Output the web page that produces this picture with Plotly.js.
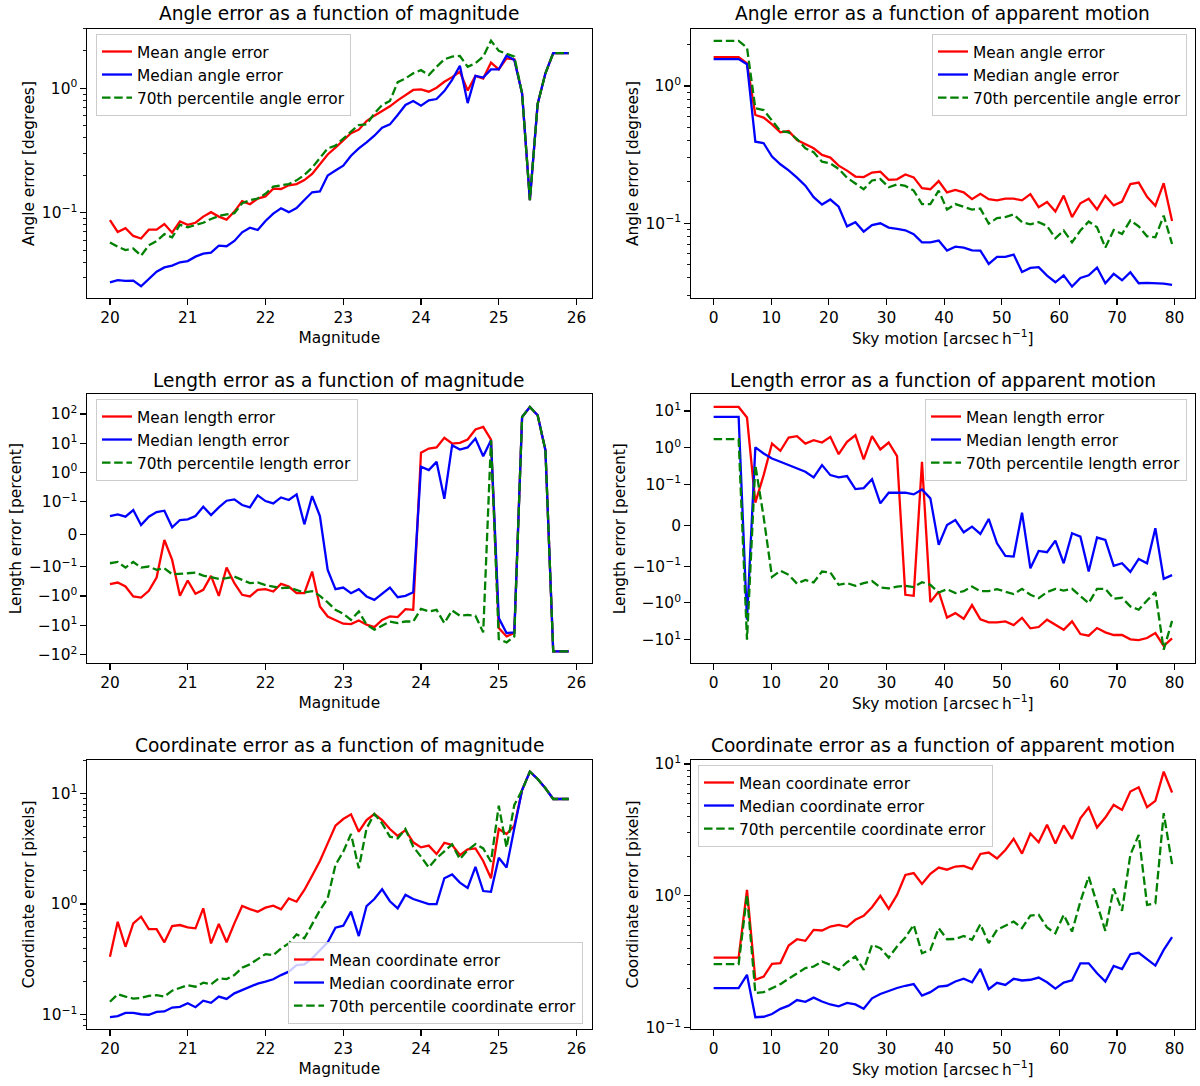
<!DOCTYPE html>
<html>
<head>
<meta charset="utf-8">
<script src="https://cdn.plot.ly/plotly-3.0.1.min.js"></script>
<style>html,body{margin:0;padding:0;background:#fff;}#chart{width:1200px;height:1086px;}</style>
</head>
<body>
<div id="chart"></div>
<script>
// ---------------- DATA ----------------
const magnitude = [20.0,20.1,20.2,20.3,20.4,20.5,20.6,20.7,20.8,20.9,21.0,21.1,21.2,21.3,21.4,21.5,21.6,21.7,21.8,21.9,
  22.0,22.1,22.2,22.3,22.4,22.5,22.6,22.7,22.8,22.9,23.0,23.1,23.2,23.3,23.4,23.5,23.6,23.7,23.8,23.9,
  24.0,24.1,24.2,24.3,24.4,24.5,24.6,24.7,24.8,24.9,25.0,25.1,25.2,25.3,25.4,25.5,25.6,25.7,25.8,25.9];
const skyMotion = [0,1.45,2.89,4.34,5.79,7.24,8.68,10.13,11.58,13.02,14.47,15.92,17.36,18.81,20.25,21.7,23.15,24.6,26.04,27.49,
  28.93,30.38,31.83,33.27,34.72,36.16,37.61,39.06,40.5,41.95,43.4,44.84,46.29,47.74,49.18,50.63,52.07,53.52,54.97,56.41,
  57.86,59.31,60.75,62.2,63.65,65.09,66.54,67.98,69.43,70.88,72.32,73.77,75.22,76.66,78.11,79.56];

// Angle error vs magnitude [degrees]
const angleMagMean = [0.087,0.070,0.075,0.065,0.062,0.073,0.073,0.081,0.069,0.085,0.080,0.083,0.093,0.101,0.093,0.088,0.102,0.124,0.117,0.130,
  0.135,0.156,0.155,0.166,0.170,0.183,0.205,0.245,0.294,0.333,0.384,0.435,0.465,0.546,0.603,0.657,0.717,0.80,0.88,0.97,
  0.98,0.94,1.01,1.13,1.23,1.36,0.96,1.26,1.20,1.61,1.42,1.74,1.71,0.91,0.126,0.748,1.32,1.92,1.92,1.92];
const angleMagMedian = [0.0275,0.0287,0.0283,0.0284,0.0256,0.0293,0.0335,0.0363,0.0375,0.0399,0.0408,0.0443,0.0468,0.0477,0.0543,0.0537,0.0592,0.0695,0.0757,0.0726,
  0.0857,0.0982,0.1084,0.101,0.109,0.1264,0.146,0.148,0.199,0.218,0.239,0.287,0.329,0.368,0.416,0.483,0.513,0.610,0.734,0.791,
  0.726,0.80,0.82,0.95,1.17,1.52,0.76,1.26,1.22,1.42,1.42,1.83,1.69,0.91,0.126,0.748,1.32,1.92,1.92,1.92];
const angleMagP70 = [0.0577,0.0533,0.0501,0.0515,0.0451,0.0546,0.0592,0.0673,0.0633,0.080,0.0762,0.080,0.083,0.089,0.094,0.097,0.099,0.119,0.126,0.130,
  0.142,0.162,0.166,0.170,0.182,0.201,0.230,0.277,0.329,0.346,0.396,0.448,0.507,0.513,0.629,0.734,0.791,1.12,1.20,1.32,
  1.40,1.28,1.49,1.71,1.80,1.82,1.49,1.59,1.80,2.42,2.0,1.91,1.80,0.91,0.126,0.748,1.32,1.92,1.92,1.92];

// Angle error vs apparent motion [degrees]
const angleMotMean = [1.62,1.62,1.62,1.62,1.46,0.615,0.588,0.526,0.460,0.47,0.404,0.376,0.352,0.315,0.301,0.263,0.242,0.219,0.217,0.234,
  0.238,0.207,0.209,0.227,0.216,0.180,0.177,0.203,0.168,0.175,0.168,0.150,0.164,0.150,0.147,0.151,0.151,0.147,0.163,0.131,
  0.143,0.122,0.159,0.111,0.140,0.151,0.126,0.159,0.135,0.144,0.193,0.198,0.156,0.134,0.196,0.104];
const angleMotMedian = [1.57,1.57,1.57,1.57,1.44,0.393,0.383,0.306,0.269,0.243,0.215,0.188,0.155,0.137,0.149,0.132,0.095,0.102,0.087,0.097,
  0.100,0.093,0.091,0.089,0.0832,0.0727,0.0727,0.0748,0.0633,0.0676,0.0665,0.0636,0.0633,0.0506,0.0569,0.0569,0.0592,0.0442,0.0473,0.0479,
  0.0416,0.0372,0.0418,0.0346,0.0400,0.0418,0.0476,0.0366,0.0428,0.0385,0.0440,0.0366,0.0368,0.0366,0.0364,0.0356];
const angleMotP70 = [2.13,2.13,2.13,2.13,1.90,0.688,0.668,0.565,0.470,0.460,0.411,0.352,0.329,0.281,0.273,0.249,0.215,0.195,0.177,0.205,
  0.210,0.183,0.192,0.187,0.173,0.138,0.138,0.173,0.126,0.138,0.132,0.126,0.128,0.0995,0.109,0.111,0.116,0.102,0.0984,0.102,
  0.0956,0.0778,0.0885,0.0727,0.0885,0.103,0.0935,0.0665,0.0894,0.0836,0.105,0.095,0.0804,0.0791,0.1137,0.0707];

// Length error vs magnitude [percent]
const lenMagMean = [-0.393,-0.344,-0.471,-1.03,-1.12,-0.663,-0.233,-0.0174,-0.0788,-0.98,-0.294,-0.838,-0.613,-0.204,-0.98,-0.106,-0.362,-0.906,-1.03,-0.613,
  -0.58,-0.698,-0.382,-0.471,-0.794,-0.794,-0.145,-2.27,-4.97,-6.8,-8.8,-9.1,-6.8,-9.5,-11.5,-6.5,-4.97,-5.2,-2.8,-2.95,
  4.8,6.6,7.2,15.3,9.8,10.3,13.4,29.5,36.3,13.4,-12.4,-23.9,-18.4,79.4,174,90.6,5.8,-77.5,-77.5,-77.5];
const lenMagMedian = [0.0563,0.0614,0.0542,0.0747,0.0286,0.0542,0.0685,0.0726,0.0215,0.044,0.046,0.0563,0.0849,0.0593,0.0828,0.109,0.121,0.090,0.0828,0.166,
  0.106,0.0951,0.141,0.115,0.179,0.0307,0.157,0.0563,-0.127,-0.58,-0.51,-0.794,-0.58,-1.03,-1.34,-0.838,-0.51,-1.09,-0.98,-0.735,
  1.57,1.21,2.32,0.127,8.6,6.1,7.2,14.5,3.6,12.7,-5.66,-18.4,-17.4,79.4,174,90.6,5.8,-77.5,-77.5,-77.5];
const lenMagP70 = [-0.089,-0.085,-0.106,-0.085,-0.106,-0.099,-0.127,-0.112,-0.179,-0.175,-0.166,-0.157,-0.199,-0.227,-0.258,-0.245,-0.216,-0.279,-0.362,-0.344,
  -0.425,-0.471,-0.538,-0.51,-0.613,-0.755,-0.68,-0.98,-1.64,-2.95,-4.03,-6.5,-3.35,-9.5,-14.1,-10.3,-7.4,-8.4,-7.4,-7.4,
  -2.72,-3.35,-2.95,-8.4,-3.1,-4.7,-4.4,-4.7,-17.4,12.7,-29.5,-38.3,-23.9,79.4,174,90.6,5.8,-77.5,-77.5,-77.5];

// Length error vs apparent motion [percent]
const lenMotMean = [12.9,12.9,12.9,12.9,6.63,0.0554,0.180,1.30,0.825,1.90,2.06,1.30,1.60,1.39,1.98,0.67,1.45,2.19,0.48,2.06,
  0.90,1.39,0.59,-0.603,-0.643,0.415,-0.953,-0.49,-2.5,-1.90,-2.71,-1.15,-2.82,-3.4,-3.4,-3.19,-4.02,-2.55,-4.94,-4.55,
  -2.88,-3.85,-5.38,-3.19,-7.05,-7.83,-4.84,-6.36,-7.5,-7.5,-9.85,-10.3,-9.06,-6.63,-14.9,-9.25];
const lenMotMedian = [6.9,6.9,6.9,6.9,-2.88,1.02,0.70,0.51,0.415,0.337,0.285,0.222,0.156,0.337,0.180,0.156,0.169,0.0888,0.0913,0.140,
  0.0538,0.0798,0.0798,0.0798,0.0758,0.088,0.066,-0.048,0.0008,0.013,-0.0171,-0.0033,-0.0212,0.0155,-0.044,-0.075,-0.0766,0.031,-0.114,-0.0627,
  -0.066,-0.0375,-0.0929,-0.0195,-0.0277,-0.140,-0.030,-0.0358,-0.0994,-0.0929,-0.143,-0.0823,-0.0929,-0.0073,-0.222,-0.176];
const lenMotP70 = [1.71,1.71,1.71,1.71,-10.1,0.337,0.02,-0.196,-0.134,-0.172,-0.3,-0.237,-0.279,-0.140,-0.149,-0.322,-0.29,-0.344,-0.29,-0.254,
  -0.381,-0.405,-0.359,-0.344,-0.373,-0.273,-0.322,-0.521,-0.424,-0.543,-0.48,-0.359,-0.48,-0.48,-0.424,-0.49,-0.578,-0.415,-0.603,-0.743,
  -0.51,-0.415,-0.461,-0.415,-0.643,-1.02,-0.415,-0.415,-0.774,-0.728,-1.25,-1.54,-0.86,-0.51,-18.8,-3.1];

// Coordinate error vs magnitude [pixels]
const coordMagMean = [0.334,0.692,0.411,0.669,0.768,0.594,0.594,0.451,0.633,0.646,0.615,0.603,0.914,0.441,0.660,0.451,0.669,0.959,0.901,0.853,
  0.927,0.966,0.895,1.125,1.05,1.34,1.80,2.45,3.53,5.1,5.86,6.46,4.50,5.74,6.51,5.74,4.76,4.12,4.66,3.61,
  3.25,3.37,2.83,3.58,3.41,2.77,3.12,3.18,2.45,1.71,4.76,4.29,5.1,10.7,15.7,13.5,11.1,8.89,8.89,8.89];
const coordMagMedian = [0.0953,0.0973,0.104,0.104,0.101,0.100,0.106,0.107,0.116,0.118,0.127,0.117,0.134,0.128,0.146,0.139,0.156,0.166,0.179,0.191,
  0.199,0.209,0.228,0.245,0.281,0.285,0.323,0.385,0.450,0.611,0.637,0.853,0.514,0.959,1.11,1.36,1.06,0.914,1.21,1.11,
  1.05,1.0,1.0,1.71,1.85,1.56,1.40,2.17,1.31,1.29,2.62,2.14,4.83,10.7,15.7,13.5,11.1,8.89,8.89,8.89];
const coordMagP70 = [0.131,0.153,0.146,0.140,0.142,0.148,0.150,0.146,0.165,0.175,0.185,0.179,0.195,0.188,0.213,0.210,0.228,0.266,0.285,0.318,
  0.353,0.346,0.397,0.441,0.532,0.49,0.66,0.88,1.125,2.25,2.97,4.29,2.10,4.83,6.51,5.36,4.06,3.92,4.76,3.30,
  2.68,2.14,2.59,3.01,3.46,2.55,3.07,3.48,3.18,2.41,7.74,3.23,7.85,10.7,15.7,13.5,11.1,8.89,8.89,8.89];

// Coordinate error vs apparent motion [pixels]
const coordMotMean = [0.340,0.340,0.340,0.340,1.11,0.231,0.244,0.305,0.309,0.420,0.469,0.456,0.552,0.546,0.585,0.603,0.582,0.658,0.705,0.820,
  1.0,0.797,1.017,1.44,1.49,1.23,1.47,1.64,1.58,1.67,1.69,1.60,2.08,2.13,1.92,2.23,2.71,2.09,2.97,2.55,
  3.46,2.49,3.42,2.71,3.88,4.68,3.30,3.93,4.90,4.49,6.18,6.67,4.71,5.26,8.77,6.08];
const coordMotMedian = [0.1995,0.1995,0.1995,0.1995,0.252,0.120,0.121,0.127,0.139,0.147,0.162,0.157,0.169,0.158,0.150,0.145,0.154,0.150,0.139,0.167,
  0.18,0.19,0.2,0.208,0.214,0.175,0.186,0.205,0.208,0.224,0.235,0.221,0.279,0.196,0.219,0.211,0.235,0.228,0.231,0.240,
  0.221,0.198,0.220,0.229,0.308,0.308,0.259,0.224,0.294,0.278,0.361,0.370,0.331,0.296,0.389,0.486];
const coordMotP70 = [0.303,0.303,0.303,0.303,1.02,0.183,0.186,0.1995,0.214,0.235,0.256,0.283,0.291,0.318,0.300,0.275,0.314,0.347,0.275,0.425,
  0.401,0.340,0.413,0.483,0.603,0.367,0.389,0.569,0.469,0.471,0.497,0.464,0.610,0.438,0.552,0.592,0.639,0.569,0.709,0.718,
  0.575,0.521,0.718,0.536,0.906,1.40,0.880,0.543,1.14,0.769,2.05,2.90,0.855,0.880,4.24,1.74];

// ---------------- SYMLOG (matplotlib-style, linthresh 0.1, linscale 1) ----------------
const LINTHRESH = 0.1, LINSCALE_ADJ = 1 / (1 - 0.1);
function symlog(v) {
  const a = Math.abs(v);
  if (a <= LINTHRESH) return v / LINTHRESH * LINSCALE_ADJ;
  return Math.sign(v) * (LINSCALE_ADJ + Math.log10(a / LINTHRESH));
}
const symTickVals = [100, 10, 1, 0.1, 0, -0.1, -1, -10, -100];
const symTickText = ['10<sup>2</sup>','10<sup>1</sup>','10<sup>0</sup>','10<sup>−1</sup>','0','−10<sup>−1</sup>','−10<sup>0</sup>','−10<sup>1</sup>','−10<sup>2</sup>'];

// ---------------- STYLE ----------------
const FONT = 'DejaVu Sans';
const RED = '#ff0000', BLUE = '#0000ff', GREEN = '#008000';
const LW = 2.3;
const DASH = '8.5px,3.7px';

function traces(x, mean, median, p70, xa, ya, lg, what, transform) {
  const f = transform || (v => v);
  return [
    {x: x, y: mean.map(f), xaxis: xa, yaxis: ya, legend: lg, mode: 'lines', name: 'Mean ' + what + ' error', line: {color: RED, width: LW}},
    {x: x, y: median.map(f), xaxis: xa, yaxis: ya, legend: lg, mode: 'lines', name: 'Median ' + what + ' error', line: {color: BLUE, width: LW}},
    {x: x, y: p70.map(f), xaxis: xa, yaxis: ya, legend: lg, mode: 'lines', name: '70th percentile ' + what + ' error', line: {color: GREEN, width: LW, dash: DASH}}
  ];
}

const data = [].concat(
  traces(magnitude, angleMagMean, angleMagMedian, angleMagP70, 'x', 'y', 'legend', 'angle'),
  traces(skyMotion, angleMotMean, angleMotMedian, angleMotP70, 'x2', 'y2', 'legend2', 'angle'),
  traces(magnitude, lenMagMean, lenMagMedian, lenMagP70, 'x3', 'y3', 'legend3', 'length', symlog),
  traces(skyMotion, lenMotMean, lenMotMedian, lenMotP70, 'x4', 'y4', 'legend4', 'length', symlog),
  traces(magnitude, coordMagMean, coordMagMedian, coordMagP70, 'x5', 'y5', 'legend5', 'coordinate'),
  traces(skyMotion, coordMotMean, coordMotMedian, coordMotP70, 'x6', 'y6', 'legend6', 'coordinate')
);

// minor log ticks 2..9 per decade
const minorLog = [];
for (let e = -2; e <= 2; e++) for (let m = 2; m <= 9; m++) minorLog.push(m * Math.pow(10, e));

const W = 1200, H = 1086;
const colL = [87 / W, 591.7 / W], colR = [690.7 / W, 1195 / W];
const rowT = [1 - 298 / H, 1 - 29 / H], rowM = [1 - 663 / H, 1 - 394.3 / H], rowB = [1 - 1029 / H, 1 - 759.7 / H];

const base = {
  showline: true, linecolor: '#000', linewidth: 1.2, mirror: true,
  ticks: 'outside', ticklen: 5.4, tickwidth: 1.2, tickcolor: '#000',
  showgrid: false, zeroline: false,
  tickfont: {family: FONT, size: 15.4, color: '#000'}
};
function xax(domain, anchor, range, tickvals, title) {
  return Object.assign({}, base, {domain: domain, anchor: anchor, range: range, tickmode: 'array', tickvals: tickvals,
    ticktext: tickvals.map(String), title: {text: title, font: {family: FONT, size: 15.4, color: '#000'}, standoff: 6}});
}
function ylog(domain, anchor, range, tickvals, ticktext, title) {
  return Object.assign({}, base, {domain: domain, anchor: anchor, type: 'log', range: range, tickmode: 'array',
    tickvals: tickvals, ticktext: ticktext,
    minor: {tickmode: 'array', tickvals: minorLog, ticks: 'outside', ticklen: 3, tickwidth: 0.9, tickcolor: '#000', showgrid: false},
    title: {text: title, font: {family: FONT, size: 15.4, color: '#000'}, standoff: 3}});
}
function ysym(domain, anchor, range, title) {
  return Object.assign({}, base, {domain: domain, anchor: anchor, range: range, tickmode: 'array',
    tickvals: symTickVals.map(symlog), ticktext: symTickText,
    title: {text: title, font: {family: FONT, size: 15.4, color: '#000'}, standoff: 3}});
}
const magTicks = [20, 21, 22, 23, 24, 25, 26];
const motTicks = [0, 10, 20, 30, 40, 50, 60, 70, 80];
const motTitle = 'Sky motion [arcsec\u2009h<sup>−1</sup>]';

const legBase = {bgcolor: 'rgba(255,255,255,0.8)', bordercolor: '#cccccc', borderwidth: 1,
  font: {family: FONT, size: 15.4, color: '#000'}, itemwidth: 30, tracegroupgap: 0};
function leg(x, y, xa, ya) { return Object.assign({}, legBase, {x: x, y: y, xanchor: xa, yanchor: ya, xref: 'paper', yref: 'paper'}); }

function title(text, x, ypx) {
  return {text: text, x: x, y: 1 - ypx / H, xref: 'paper', yref: 'paper', xanchor: 'center', yanchor: 'middle',
    showarrow: false, font: {family: FONT, size: 18.6, color: '#000'}};
}
const cL = (colL[0] + colL[1]) / 2, cR = (colR[0] + colR[1]) / 2;

const layout = {
  width: W, height: H, margin: {l: 0, r: 0, t: 0, b: 0},
  paper_bgcolor: '#fff', plot_bgcolor: '#fff', showlegend: true, hovermode: false,
  font: {family: FONT, color: '#000'},
  xaxis: xax(colL, 'y', [19.705, 26.195], magTicks, 'Magnitude'),
  yaxis: ylog(rowT, 'x', [-1.686, 0.477], [0.1, 1], ['10<sup>−1</sup>', '10<sup>0</sup>'], 'Angle error [degrees]'),
  xaxis2: xax(colR, 'y2', [-3.98, 83.54], motTicks, motTitle),
  yaxis2: ylog(rowT, 'x2', [-1.544, 0.415], [0.1, 1], ['10<sup>−1</sup>', '10<sup>0</sup>'], 'Angle error [degrees]'),
  xaxis3: xax(colL, 'y3', [19.705, 26.195], magTicks, 'Magnitude'),
  yaxis3: ysym(rowM, 'x3', [-4.398, 4.785], 'Length error [percent]'),
  xaxis4: xax(colR, 'y4', [-3.98, 83.54], motTicks, motTitle),
  yaxis4: ysym(rowM, 'x4', [-3.748, 3.566], 'Length error [percent]'),
  xaxis5: xax(colL, 'y5', [19.705, 26.195], magTicks, 'Magnitude'),
  yaxis5: ylog(rowB, 'x5', [-1.129, 1.304], [0.1, 1, 10], ['10<sup>−1</sup>', '10<sup>0</sup>', '10<sup>1</sup>'], 'Coordinate error [pixels]'),
  xaxis6: xax(colR, 'y6', [-3.98, 83.54], motTicks, motTitle),
  yaxis6: ylog(rowB, 'x6', [-1.01, 1.033], [0.1, 1, 10], ['10<sup>−1</sup>', '10<sup>0</sup>', '10<sup>1</sup>'], 'Coordinate error [pixels]'),
  legend: leg(96 / W, 1 - 34 / H, 'left', 'top'),
  legend2: leg(1187 / W, 1 - 34 / H, 'right', 'top'),
  legend3: leg(96 / W, 1 - 399 / H, 'left', 'top'),
  legend4: leg(1187 / W, 1 - 399 / H, 'right', 'top'),
  legend5: leg(583 / W, 1 - 1024 / H, 'right', 'bottom'),
  legend6: leg(698 / W, 1 - 765 / H, 'left', 'top'),
  annotations: [
    title('Angle error as a function of magnitude', cL, 14),
    title('Angle error as a function of apparent motion', cR, 14),
    title('Length error as a function of magnitude', cL, 380),
    title('Length error as a function of apparent motion', cR, 380),
    title('Coordinate error as a function of magnitude', cL, 745),
    title('Coordinate error as a function of apparent motion', cR, 745)
  ]
};

Plotly.newPlot('chart', data, layout, {staticPlot: true, displayModeBar: false});
</script>
</body>
</html>
